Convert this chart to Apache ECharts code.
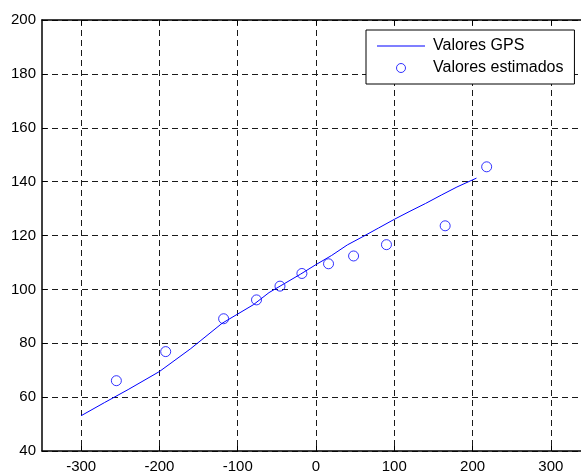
<!DOCTYPE html>
<html>
<head>
<meta charset="utf-8">
<script src="https://cdn.jsdelivr.net/npm/echarts@6/dist/echarts.min.js"></script>
<style>
  html, body { margin: 0; padding: 0; background: #fff; }
  #chart { width: 581px; height: 471px; }
</style>
</head>
<body>
<div id="chart"></div>
<script>
// GPS reference track
const gpsX = [-300, -270, -240, -200, -160, -120, -80, -60, -40, -20, 0, 20, 40, 60, 80, 100, 120, 140, 160, 180, 205];
const gpsY = [53.1, 58.0, 62.8, 69.5, 78.0, 87.4, 94.3, 98.8, 102.2, 105.6, 109.2, 112.6, 116.5, 119.6, 122.8, 126.0, 129.0, 131.9, 135.0, 138.0, 141.3];

// Estimated positions
const estX = [-255, -192, -118, -76, -46, -18, 16, 48, 90, 165, 218];
const estY = [66.1, 76.9, 89.1, 96.1, 101.2, 105.9, 109.5, 112.4, 116.6, 123.6, 145.5];

const xTicks = [-300, -200, -100, 0, 100, 200, 300];

const seriesNames = ['Valores GPS', 'Valores estimados'];

const FONT = 'Liberation Sans, Arial, Helvetica, sans-serif';
const BLUE = '#0000ff';

const chart = echarts.init(document.getElementById('chart'), null, { renderer: 'canvas' });

const gridDash = { color: '#1a1a1a', width: 1, type: [6, 4] };
const axisLineStyle = { color: '#000', width: 1.5 };

chart.setOption({
  animation: false,
  backgroundColor: '#fff',
  grid: {
    left: 42, top: 20, width: 548, height: 431,
    containLabel: false,
    outerBoundsMode: 'none'
  },
  legend: {
    orient: 'vertical',
    left: 366, top: 30,
    padding: [8, 11, 8, 11],
    itemGap: 6,
    itemWidth: 48,
    itemHeight: 9,
    borderColor: '#000',
    borderWidth: 1,
    backgroundColor: '#fff',
    textStyle: { fontFamily: FONT, fontSize: 16, color: '#000', lineHeight: 16, padding: [0, 0, 0, 3] },
    data: [
      // plain horizontal stroke for the track entry
      { name: seriesNames[0], icon: 'path://M0 0H48V1H0Z', itemStyle: { color: BLUE } },
      { name: seriesNames[1], icon: 'circle', itemStyle: { color: '#fff', borderColor: BLUE, borderWidth: 1 } }
    ]
  },
  xAxis: [
    {
      type: 'value', position: 'bottom',
      min: -350, max: 350,
      axisLine: { onZero: false, lineStyle: axisLineStyle },
      axisTick: { inside: true, length: 5, customValues: xTicks, lineStyle: { color: '#000' } },
      axisLabel: { customValues: xTicks, fontFamily: FONT, fontSize: 15, color: '#000', margin: 8 },
      splitLine: { show: true, lineStyle: gridDash }
    },
    {
      type: 'value', position: 'top',
      min: -350, max: 350,
      axisLine: { onZero: false, lineStyle: axisLineStyle },
      axisTick: { inside: true, length: 5, customValues: xTicks, lineStyle: { color: '#000' } },
      axisLabel: { show: false },
      splitLine: { show: false }
    }
  ],
  yAxis: {
    type: 'value',
    min: 40, max: 200, interval: 20,
    axisLine: { show: true, onZero: false, lineStyle: axisLineStyle },
    axisTick: { show: true, inside: true, length: 5, lineStyle: { color: '#000' } },
    axisLabel: { fontFamily: FONT, fontSize: 15, color: '#000', margin: 6 },
    splitLine: { show: true, lineStyle: gridDash }
  },
  series: [
    {
      name: seriesNames[0],
      type: 'line',
      data: gpsX.map((x, i) => [x, gpsY[i]]),
      symbol: 'none',
      lineStyle: { color: BLUE, width: 1 },
      itemStyle: { color: BLUE },
      z: 3
    },
    {
      name: seriesNames[1],
      type: 'scatter',
      data: estX.map((x, i) => [x, estY[i]]),
      symbol: 'circle',
      symbolSize: 10,
      itemStyle: { color: 'rgba(0,0,0,0)', borderColor: BLUE, borderWidth: 1 },
      z: 4
    }
  ]
});
</script>
</body>
</html>
